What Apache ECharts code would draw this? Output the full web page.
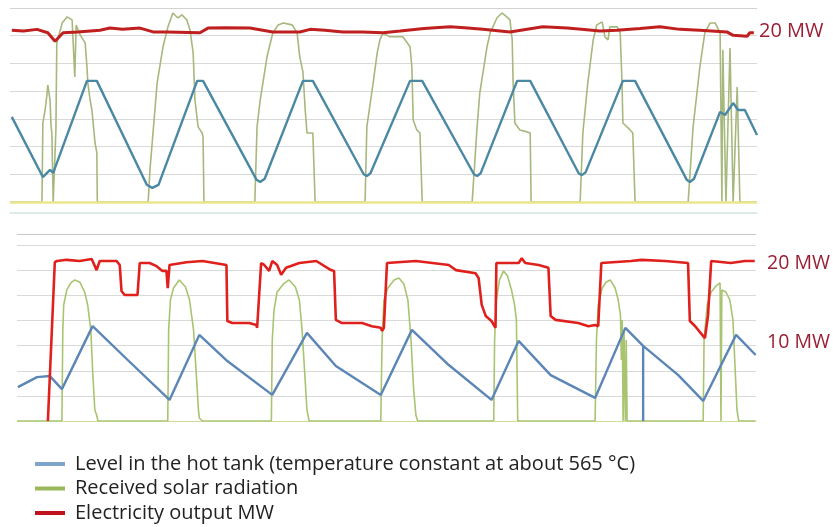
<!DOCTYPE html>
<html>
<head>
<meta charset="utf-8">
<script src="https://cdn.jsdelivr.net/npm/echarts@6/dist/echarts.min.js"></script>
<style>
  html, body { margin: 0; background: #fff; }
  #chart { width: 833px; height: 527px; }
</style>
</head>
<body>
<div id="chart"></div>
<script>
// x = hours from start of record, level/solar in grid steps, power in MW
const seriesNames = [
  'Level in the hot tank (temperature constant at about 565 °C)',
  'Received solar radiation',
  'Electricity output MW'
]
const mwLabelsTop = [20]
const mwLabelsBottom = [10, 20]

// upper panel
const topTankLevel = [[0.4,3.07],[7.3,0.9],[8.9,1.16],[9.6,1.05],[17.1,4.37],[19.3,4.37],[30.4,0.62],[31.6,0.51],[33,0.62],[41.6,4.37],[42.9,4.37],[54.8,0.8],[55.6,0.72],[56.6,0.84],[65.1,4.37],[67.3,4.37],[78.6,1.0],[79.3,0.94],[80.1,1.04],[88.9,4.37],[91.6,4.37],[103.1,1.0],[103.8,0.94],[104.6,1.04],[112.7,4.37],[115.6,4.37],[126.4,1.03],[127.1,0.97],[127.9,1.07],[136.2,4.37],[138.9,4.37],[150.4,0.8],[151.1,0.72],[152,0.84],[157.8,3.25],[158.9,3.14],[160.7,3.57],[161.8,3.32],[163.3,3.32],[166,2.42]]

const topSolar = [[0,0],[7.1,0],[7.3,2.85],[7.8,3.32],[8.2,3.86],[8.4,4.22],[8.9,3.68],[9.1,2.78],[9.3,2.49],[9.6,0],[10,0],[10.2,2.6],[10.4,5.74],[11.6,6.46],[12.7,6.68],[13.8,6.57],[14.2,6.5],[14.4,4.51],[14.7,6.39],[15.1,6.21],[15.6,6.03],[16.7,5.74],[17.1,4.87],[17.3,4.3],[17.8,3.68],[18.2,3.32],[18.9,2.13],[19.3,1.77],[19.4,0],
  [30.7,0],[31.1,1.16],[32.7,4.3],[34,5.6],[35.1,6.32],[36.2,6.82],[37.3,6.64],[38.2,6.75],[39.3,6.57],[40,6.21],[40.7,5.38],[41.1,3.68],[41.8,2.71],[42.7,2.49],[42.9,2.35],[43.1,0],
  [54.4,0],[54.9,2.71],[55.6,3.68],[57.1,5.23],[58.4,6.1],[59.6,6.39],[60.7,6.46],[62.7,6.39],[63.8,6.1],[64.4,5.23],[65.1,4.69],[65.6,3.32],[66,2.49],[67.3,2.49],[67.8,0],
  [78.9,0],[79.3,2.71],[80.7,4.3],[81.6,5.38],[82.2,5.85],[82.9,6.1],[84.4,5.96],[87.3,5.96],[88.9,5.6],[89.3,4.87],[89.6,2.96],[90.4,2.6],[91.1,2.49],[91.6,0],
  [102.7,0],[103.8,2.71],[104.4,3.94],[106,5.6],[106.7,6.1],[108.2,6.64],[109.3,6.82],[110.4,6.68],[111.1,6.57],[111.6,5.85],[111.8,4.3],[112.2,2.85],[113.3,2.6],[114.9,2.53],[115.6,2.49],[115.8,0],
  [126.7,0],[127.3,2.49],[128.4,4.3],[129.6,5.85],[130.4,6.39],[131.6,6.5],[132.2,5.96],[132.9,5.85],[133.3,6.32],[134.9,6.32],[135.6,6.1],[136,4.3],[136.2,2.85],[137.8,2.6],[138.4,2.49],[138.9,0],
  [150.7,0],[151.8,2.71],[153.3,4.87],[154.4,6.1],[155.6,6.46],[156.7,6.46],[157.8,6.1],[158.2,0],[158.4,5.49],[159.1,0],[160,5.56],[160.7,0],[161.6,4.15],[162.2,0],[166,0]]

const topPower = [[0.4,20.1],[3,20.0],[6,20.2],[8.4,19.8],[10,18.8],[11.8,19.8],[15,19.9],[20,20.1],[22.2,20.35],[25,20.2],[28.9,20.35],[31.8,19.9],[34.9,19.9],[42.2,19.8],[44,20.35],[48,20.4],[53.3,20.35],[58.4,19.9],[64.4,19.9],[66.7,20.2],[70,20.1],[74,19.9],[78.4,19.9],[82.9,19.8],[86.7,20.0],[92,20.3],[97.8,20.5],[101,20.4],[105.1,20.2],[111.1,19.9],[118.4,20.5],[123.8,20.35],[127,20.2],[131.1,20.0],[134.9,20.1],[140,20.3],[144.4,20.5],[148.9,20.2],[153.3,20.1],[159.3,19.9],[160.7,19.5],[163.8,19.4],[164.4,19.8],[165.3,19.8]]

// lower panel
const bottomTankLevel = [[0.2,1.35],[4.5,1.75],[7.4,1.79],[10.1,1.27],[17.0,3.78],[24.9,2.43],[34.3,0.84],[41.0,3.43],[47.3,2.39],[57.4,1.04],[65.2,3.51],[71.7,2.19],[81.8,1.04],[88.8,3.63],[97.1,2.23],[106.7,0.84],[112.8,3.19],[120.0,1.83],[130.0,0.92],[136.8,3.71],[140.8,2.99],[140.8,0],[140.8,2.99],[148.7,1.83],[154.3,0.8],[161.7,3.43],[166.1,2.63]]

const bottomSolar = [[0,0],[10.1,0],[10.3,3.63],[10.5,4.62],[11.2,5.22],[12.1,5.5],[13.0,5.62],[14.1,5.54],[15.2,5.14],[15.9,4.62],[16.6,3.63],[17.0,2.03],[17.5,0.44],[17.9,0.24],[18.2,0],
  [33.9,0],[34.1,3.63],[34.5,4.82],[35.2,5.3],[36.5,5.62],[37.9,5.34],[38.8,4.82],[39.7,3.63],[40.4,1.63],[40.8,0.44],[41.0,0.12],[41.7,0],
  [57.2,0],[57.4,3.23],[57.8,4.42],[58.5,5.14],[59.9,5.46],[61.2,5.62],[62.6,5.34],[63.5,4.82],[64.1,3.63],[64.8,1.63],[65.2,0.44],[65.7,0],
  [81.8,0],[82.1,3.23],[82.5,4.82],[83.4,5.3],[84.8,5.62],[85.9,5.7],[87.0,5.46],[87.9,4.82],[88.6,3.23],[89.2,1.24],[89.7,0.24],[90.1,0],
  [107.2,0],[107.4,3.23],[107.8,4.82],[108.5,5.62],[109.4,5.98],[110.3,5.78],[111.2,5.22],[111.9,4.62],[112.3,4.02],[112.6,0],
  [130.0,0],[130.3,3.23],[130.7,4.62],[131.6,5.3],[132.5,5.54],[133.4,5.62],[134.5,5.3],[135.2,4.82],[135.7,4.22],[135.9,2.43],[136.1,4.02],[136.3,0],[136.5,3.63],[136.8,0],[137.0,3.23],[137.2,0],
  [154.3,0],[154.5,3.23],[155.2,4.62],[156.1,5.14],[157.2,5.38],[158.1,5.5],[158.3,0],[158.5,5.22],[159.4,5.14],[160.3,4.82],[161.0,4.02],[161.4,2.43],[161.9,0.44],[162.3,0],[166.1,0]]

const bottomPower = [[6.95,0],[8.5,20.1],[9.0,20.25],[11.2,20.4],[14.1,20.25],[16.8,20.5],[17.9,19.1],[18.6,20.25],[22.4,20.25],[23.1,19.75],[23.5,16.45],[24.2,15.95],[27.1,15.95],[27.6,20.0],[29.8,20.0],[31.4,19.6],[32.7,19.0],[33.6,19.0],[33.9,16.8],[34.3,19.75],[38.1,20.1],[41.7,20.25],[47.1,19.75],[47.3,12.66],[48.4,12.4],[52.2,12.4],[53.8,12.15],[54.0,11.8],[54.9,20.0],[55.6,19.75],[56.7,19.0],[57.4,20.25],[58.5,19.75],[59.4,18.5],[60.5,19.4],[63.5,20.0],[67.3,20.25],[70.6,19.1],[71.3,19.0],[71.7,12.8],[73.1,12.4],[77.6,12.4],[79.8,12.0],[81.8,11.8],[82.1,11.4],[82.5,11.8],[83.2,20.0],[89.7,20.25],[97.1,19.75],[98.7,19.1],[103.1,18.7],[103.8,18.1],[104.5,14.7],[105.4,13.3],[106.7,12.66],[107.6,11.8],[107.8,20.0],[110.5,20.0],[112.8,20.0],[113.5,20.6],[114.3,20.0],[117.3,19.75],[119.5,19.4],[120.0,13.3],[121.1,12.8],[126.2,12.4],[128.5,12.0],[130.0,12.15],[130.7,12.0],[131.4,20.0],[138.1,20.25],[140.4,20.4],[145.7,20.25],[150.9,20.0],[151.3,12.66],[152.5,12.0],[153.8,11.1],[154.7,10.5],[155.4,13.4],[156.1,20.25],[160.5,20.0],[163.7,20.25],[165.9,20.25]]

const myChart = echarts.init(document.getElementById('chart'))

const gridColor = '#d9d9d9'
const mwLabel = (list) => (v) => list.includes(v) ? v + ' MW' : ''

const option = {
  animation: false,
  backgroundColor: '#fff',
  grid: [
    { left: 10, right: 76, top: 8, height: 194 },
    { left: 17, right: 75, top: 234, height: 187 }
  ],
  xAxis: [
    { type: 'value', gridIndex: 0, min: 0, max: 166, offset: 11,
      axisLine: { show: true, onZero: false, lineStyle: { color: '#d4e6df', width: 1.5 } },
      axisTick: { show: false }, axisLabel: { show: false }, splitLine: { show: false } },
    { type: 'value', gridIndex: 1, min: 0, max: 166.2,
      axisLine: { show: false }, axisTick: { show: false }, axisLabel: { show: false }, splitLine: { show: false } }
  ],
  yAxis: [
    { type: 'value', gridIndex: 0, min: 0, max: 7, interval: 1,
      axisLine: { show: false }, axisTick: { show: false }, axisLabel: { show: false },
      splitLine: { lineStyle: { color: ['#e9e78e', gridColor, gridColor, gridColor, gridColor, gridColor, gridColor, '#d2d2d2'], width: 1.2 } } },
    { type: 'value', gridIndex: 0, position: 'right', min: 0, max: 22.7, interval: 10,
      axisLine: { show: false }, axisTick: { show: false }, splitLine: { show: false },
      axisLabel: { margin: 2, formatter: mwLabel(mwLabelsTop), color: '#9a1f34', fontSize: 20, fontFamily: 'Open Sans' } },
    { type: 'value', gridIndex: 1, min: 0, max: 7.45, interval: 1,
      axisLine: { show: false }, axisTick: { show: false }, axisLabel: { show: false },
      splitLine: { lineStyle: { color: ['#cfdc9c', gridColor, gridColor, gridColor, gridColor, gridColor, gridColor, gridColor, '#c8c8c8'], width: 1.2 } } },
    { type: 'value', gridIndex: 1, position: 'right', min: 0, max: 23.67, interval: 10,
      axisLine: { show: false }, axisTick: { show: false }, splitLine: { show: false },
      axisLabel: { margin: 11, formatter: mwLabel(mwLabelsBottom), color: '#9a1f34', fontSize: 19.5, fontFamily: 'Open Sans' } }
  ],
  legend: {
    orient: 'vertical', left: 35, top: 454, padding: 0, itemWidth: 30, itemHeight: 4, itemGap: 4.5,
    icon: 'rect',
    textStyle: { fontSize: 20, lineHeight: 20, color: '#222', fontFamily: 'Open Sans', padding: [0, 0, 0, 5] },
    data: [
      { name: seriesNames[0], itemStyle: { color: '#7fa5cc' } },
      { name: seriesNames[1], itemStyle: { color: '#9bb85a' } },
      { name: seriesNames[2], itemStyle: { color: '#c0141c' } }
    ]
  },
  series: [
    { name: seriesNames[1], type: 'line', xAxisIndex: 0, yAxisIndex: 0, data: topSolar, showSymbol: false,
      lineStyle: { color: '#a6b87c', width: 1.6 }, itemStyle: { color: '#a6b87c' },
      markLine: { silent: true, symbol: 'none', label: { show: false },
        lineStyle: { color: '#e9e78e', width: 2.5, type: 'solid' }, data: [{ yAxis: 0 }] } },
    { name: seriesNames[0], type: 'line', xAxisIndex: 0, yAxisIndex: 0, data: topTankLevel, showSymbol: false,
      lineStyle: { color: '#4a88a4', width: 2.4 }, itemStyle: { color: '#4a88a4' } },
    { name: seriesNames[2], type: 'line', xAxisIndex: 0, yAxisIndex: 1, data: topPower, showSymbol: false,
      lineStyle: { color: '#c01f1f', width: 3 }, itemStyle: { color: '#c01f1f' } },
    { name: seriesNames[1], type: 'line', xAxisIndex: 1, yAxisIndex: 2, data: bottomSolar, showSymbol: false,
      lineStyle: { color: '#a9c470', width: 1.6 }, itemStyle: { color: '#a9c470' } },
    { name: seriesNames[0], type: 'line', xAxisIndex: 1, yAxisIndex: 2, data: bottomTankLevel, showSymbol: false,
      lineStyle: { color: '#5b86b6', width: 2.4 }, itemStyle: { color: '#5b86b6' } },
    { name: seriesNames[2], type: 'line', xAxisIndex: 1, yAxisIndex: 3, data: bottomPower, showSymbol: false,
      lineStyle: { color: '#e0201c', width: 2.6 }, itemStyle: { color: '#e0201c' } }
  ]
}

myChart.setOption(option)
</script>
</body>
</html>
